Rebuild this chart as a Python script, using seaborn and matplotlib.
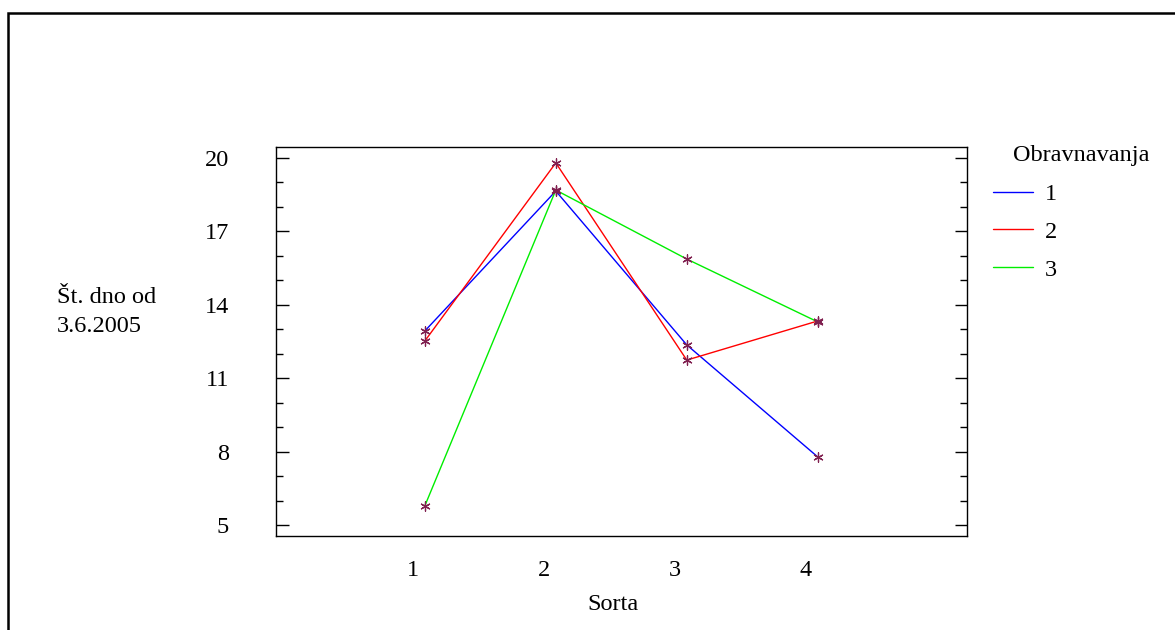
import matplotlib
matplotlib.use("Agg")
import matplotlib.pyplot as plt
import seaborn as sns
import pandas as pd
from matplotlib.ticker import MultipleLocator, FixedLocator
from matplotlib.lines import Line2D
from matplotlib.patches import Rectangle

sorta = [1, 2, 3, 4]
obr1 = [12.93, 18.65, 12.36, 7.78]
obr2 = [12.52, 19.80, 11.74, 13.34]
obr3 = [5.78, 18.69, 15.87, 13.30]
series_names = ["1", "2", "3"]
colors = ["#0000ff", "#ff0000", "#00ee00"]

rows = []
for name, vals in zip(series_names, [obr1, obr2, obr3]):
    for s, v in zip(sorta, vals):
        rows.append({"Sorta": s + 0.09, "val": v, "Obravnavanja": name})
df = pd.DataFrame(rows)

sns.set_theme(style="white")
plt.rcParams["font.family"] = ["Liberation Serif", "DejaVu Serif"]
plt.rcParams["text.color"] = "black"
plt.rcParams["xtick.color"] = "black"
plt.rcParams["ytick.color"] = "black"
FS = 17.5

fig = plt.figure(figsize=(11.75, 6.3), dpi=100)
ax = fig.add_axes([276/1175, 1-536/630, (967-276)/1175, (536-147)/630])

sns.lineplot(data=df, x="Sorta", y="val", hue="Obravnavanja",
             palette=colors, linewidth=1.0, ax=ax, legend=False, sort=False)
ax.scatter(df["Sorta"], df["val"], marker=(6, 2, 0), s=45, color="#802050",
           linewidths=0.9, zorder=5)

ax.set_xlim(-0.046, 5.229)
ax.set_ylim(4.55, 20.45)
ax.xaxis.set_major_locator(FixedLocator(sorta))
ax.set_yticks([5, 8, 11, 14, 17, 20])
ax.yaxis.set_minor_locator(MultipleLocator(1))
ax.tick_params(axis="y", which="both", direction="in", left=True, right=True,
               labelsize=FS, pad=34)
ax.tick_params(axis="y", which="major", length=9, width=1)
ax.tick_params(axis="y", which="minor", length=5, width=1)
ax.tick_params(axis="x", which="both", bottom=False, top=False, labelsize=FS, pad=11)
ax.set_xlabel("")
ax.set_ylabel("")
for sp in ax.spines.values():
    sp.set_color("black")
    sp.set_linewidth(1.0)

fig.text(613/1175, 1-605/630, "Sorta", ha="center", va="center", fontsize=FS)
fig.text(57/1175, 1-312/630, "Št. dno od\n3.6.2005", ha="left", va="center",
         fontsize=FS, linespacing=1.45)

fig.text(1013/1175, 1-155/630, "Obravnavanja", ha="left", va="center", fontsize=FS)
handles = [Line2D([0], [0], color=c, linewidth=1.0) for c in colors]
leg = fig.legend(handles, series_names,
                 loc="upper left", bbox_to_anchor=(993/1175, 1-183/630),
                 frameon=False, fontsize=FS, borderpad=0, borderaxespad=0,
                 handlelength=1.65, handletextpad=0.5, labelspacing=0.65)

fig.patches.append(Rectangle((8/1175, -0.1), 1.2, 1 - 13/630 + 0.1,
                             transform=fig.transFigure, fill=False,
                             edgecolor="black", linewidth=1.8))

fig.savefig("out.png", dpi=100)
